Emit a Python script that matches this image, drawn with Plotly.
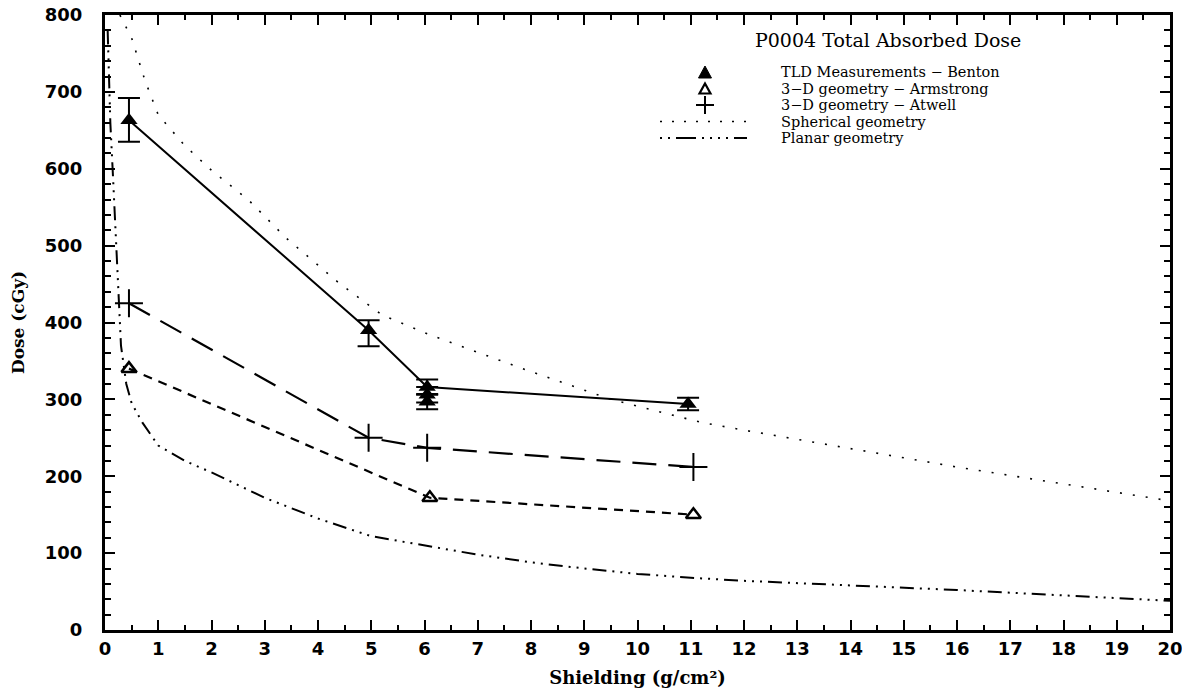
import plotly.graph_objects as go

# ---- data ----
tld_x = [0.45, 4.95, 6.05, 10.95]
tld_y = [663, 390, 316, 294]
tld_err_plus = [29, 13, 10, 8]
tld_err_minus = [28, 21, 10, 8]

tld_extra_x = [6.05, 6.05]
tld_extra_y = [306, 297]
tld_extra_err = [10, 10]

armstrong_x = [0.45, 6.1, 11.05]
armstrong_y = [340, 172, 150]

atwell_x = [0.45, 4.95, 6.05, 11.05]
atwell_y = [425, 250, 237, 212]

spherical_x = [0.28, 0.5, 0.75, 1.0, 1.5, 2.0, 2.7, 3.4, 4.4, 5.2, 6.1, 7.8, 9.5, 11.2, 12, 14, 16, 18, 20]
spherical_y = [800, 770, 715, 670, 630, 598, 559, 510, 451, 410, 384, 341, 300, 270, 260, 236, 212, 190, 168]

planar_x = [0.05, 0.1, 0.15, 0.2, 0.25, 0.3, 0.4, 0.5, 0.7, 1.0, 1.5, 2, 3, 4, 5, 6, 7, 8, 9, 10, 11, 12, 14, 16, 18, 20]
planar_y = [780, 660, 590, 520, 460, 370, 320, 295, 270, 240, 220, 205, 172, 145, 122, 110, 98, 88, 80, 73, 68, 64, 58, 52, 45, 38]

legend_title = "P0004 Total Absorbed Dose"
names = ["TLD Measurements \u2212 Benton", "3\u2212D geometry \u2212 Armstrong",
         "3\u2212D geometry \u2212 Atwell", "Spherical geometry", "Planar geometry"]

SERIF = "DejaVu Serif, Liberation Serif, serif"
SANS = "DejaVu Sans, Liberation Sans, sans-serif"

SPH_DASH = "2px,11px"
PLN_DASH = "14px,6px,2px,6px,2px,6px,2px,6px"

# ---- layout geometry (pixels) ----
W, H = 1182, 696
ML, MR, MT, MB = 105, 12, 15, 66
PW, PH = W - ML - MR, H - MT - MB


def px(xp):
    return (xp - ML) / PW


def py(yp):
    return (H - MB - yp) / PH


fig = go.Figure()

fig.add_trace(go.Scatter(x=spherical_x, y=spherical_y, mode="lines",
                         line=dict(color="black", width=1.6, dash=SPH_DASH),
                         name=names[3], showlegend=False))
fig.add_trace(go.Scatter(x=planar_x, y=planar_y, mode="lines",
                         line=dict(color="black", width=2, dash=PLN_DASH),
                         name=names[4], showlegend=False))
fig.add_trace(go.Scatter(x=atwell_x, y=atwell_y, mode="lines+markers",
                         line=dict(color="black", width=2.2, dash="24px,12px"),
                         marker=dict(symbol="cross-thin", size=20, line=dict(color="black", width=2)),
                         name=names[2], showlegend=False))
fig.add_trace(go.Scatter(x=armstrong_x, y=armstrong_y, mode="lines+markers",
                         line=dict(color="black", width=2.2, dash="9px,7px"),
                         marker=dict(symbol="triangle-up-open", size=13, color="black",
                                     line=dict(color="black", width=2.5)),
                         name=names[1], showlegend=False))
fig.add_trace(go.Scatter(x=tld_x, y=tld_y, mode="lines+markers",
                         line=dict(color="black", width=2),
                         marker=dict(symbol="triangle-up", size=15, color="black"),
                         error_y=dict(type="data", array=tld_err_plus, arrayminus=tld_err_minus,
                                      color="black", thickness=2, width=11),
                         name=names[0], showlegend=False))
fig.add_trace(go.Scatter(x=tld_extra_x, y=tld_extra_y, mode="markers",
                         marker=dict(symbol="triangle-up", size=15, color="black"),
                         error_y=dict(type="data", array=tld_extra_err,
                                      color="black", thickness=2, width=11),
                         showlegend=False))

axis_common = dict(
    showgrid=False, zeroline=False, showline=True, linecolor="black", linewidth=3,
    mirror="ticks", ticks="inside", tickcolor="black", tickwidth=2, automargin=False,
    ticklabeloverflow="allow",
    tickfont=dict(family=SANS, size=18, color="black", weight="bold"),
)

fig.update_xaxes(range=[0, 20], dtick=1, tick0=0, ticklen=10, ticklabelstandoff=0,
                 minor=dict(dtick=0.5, ticks="inside", ticklen=5, tickcolor="black", tickwidth=1.5),
                 title=dict(text="Shielding (g/cm\u00b2)",
                            font=dict(family=SERIF, size=18, color="black", weight="bold"),
                            standoff=14),
                 **axis_common)
fig.update_yaxes(range=[0, 800], dtick=100, tick0=0, ticklen=10, ticklabelstandoff=16,
                 minor=dict(dtick=20, ticks="inside", ticklen=6, tickcolor="black", tickwidth=1.5),
                 title=dict(text="Dose (cGy)",
                            font=dict(family=SERIF, size=17, color="black", weight="bold"),
                            standoff=16),
                 **axis_common)

# ---- hand-built legend (layout annotations and shapes) ----
annotations = [dict(xref="paper", yref="paper", x=px(754), y=py(40), xanchor="left", yanchor="middle",
                    text=legend_title, showarrow=False, borderpad=0,
                    font=dict(family=SERIF, size=19, color="black"))]
item_y = [72, 88.5, 105, 121.5, 138]
for name, yy in zip(names, item_y):
    annotations.append(dict(xref="paper", yref="paper", x=px(780), y=py(yy), xanchor="left",
                            yanchor="middle", text=name, showarrow=False, borderpad=0,
                            font=dict(family=SERIF, size=14.5, color="black")))


def tri_path(cx, cy, w, h):
    return "M {:.5f},{:.5f} L {:.5f},{:.5f} L {:.5f},{:.5f} Z".format(
        px(cx - w / 2), py(cy + h / 2), px(cx + w / 2), py(cy + h / 2), px(cx), py(cy - h / 2))


MX = 705
shapes = [
    dict(type="path", xref="paper", yref="paper", path=tri_path(MX, item_y[0], 13, 12),
         fillcolor="black", line=dict(color="black", width=1)),
    dict(type="path", xref="paper", yref="paper", path=tri_path(MX, item_y[1], 11, 10),
         fillcolor="white", line=dict(color="black", width=2.2)),
    dict(type="line", xref="paper", yref="paper", x0=px(MX - 9), x1=px(MX + 9),
         y0=py(item_y[2]), y1=py(item_y[2]), line=dict(color="black", width=2)),
    dict(type="line", xref="paper", yref="paper", x0=px(MX), x1=px(MX),
         y0=py(item_y[2] - 9), y1=py(item_y[2] + 9), line=dict(color="black", width=2)),
    dict(type="line", xref="paper", yref="paper", x0=px(660), x1=px(747), y0=py(item_y[3]), y1=py(item_y[3]),
         line=dict(color="black", width=1.6, dash="2px,10px")),
    dict(type="line", xref="paper", yref="paper", x0=px(660), x1=px(747), y0=py(item_y[4]), y1=py(item_y[4]),
         line=dict(color="black", width=2, dash="2px,6px,2px,6px,20px,6px,2px,6px,2px,6px")),
]

fig.update_layout(
    width=W, height=H,
    margin=dict(l=ML, r=MR, t=MT, b=MB),
    paper_bgcolor="white", plot_bgcolor="white",
    showlegend=False,
    annotations=annotations,
    shapes=shapes,
)

fig.write_html("out.html", config={"displayModeBar": False},
               post_script="document.body.style.margin='0';document.body.style.overflow='hidden';")
